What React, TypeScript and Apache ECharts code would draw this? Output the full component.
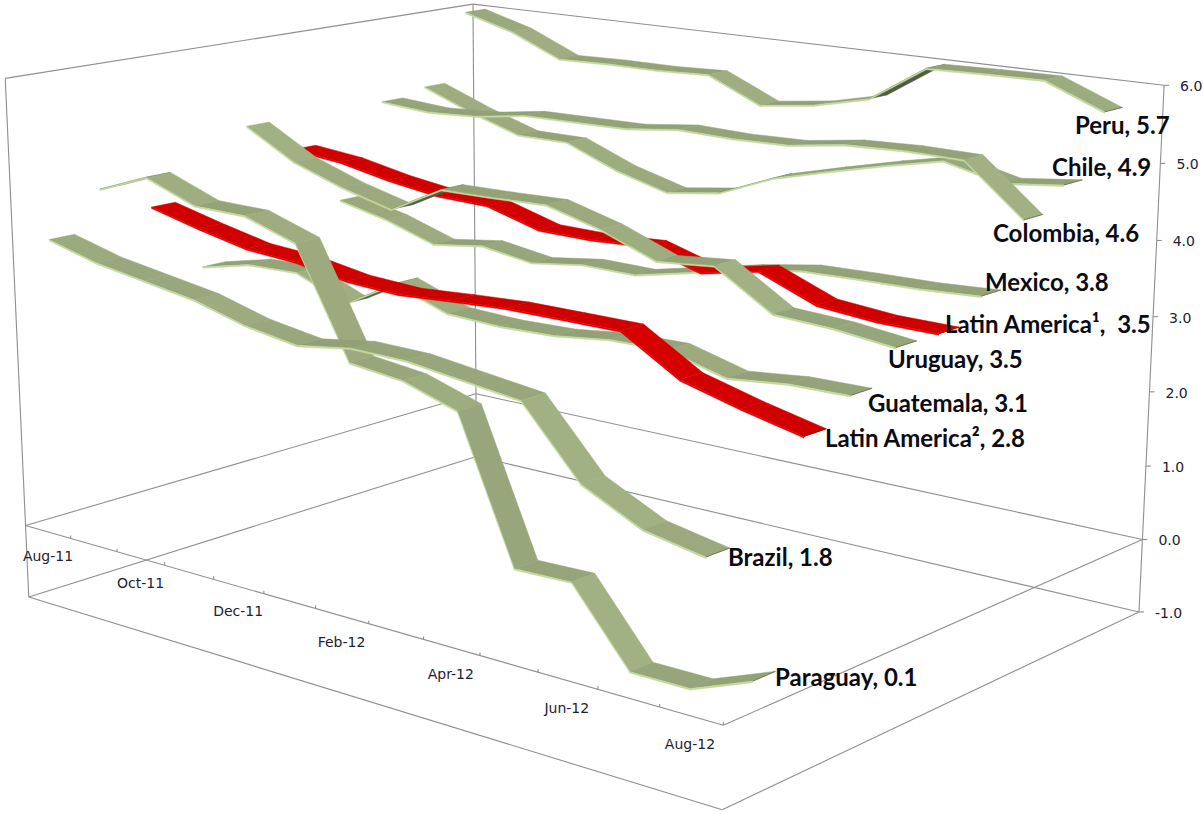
import React, { useEffect, useRef } from "react";
import * as echarts from "echarts";

const W = 1203, H = 814;

const months = ["Aug-11","Sep-11","Oct-11","Nov-11","Dec-11","Jan-12","Feb-12","Mar-12","Apr-12","May-12","Jun-12","Jul-12","Aug-12"];
const valueTicks = [-1, 0, 1, 2, 3, 4, 5, 6];

const brazil = [3.91,3.73,3.62,3.51,3.32,3.21,3.32,3.31,3.22,3.13,2.30,1.94,1.8];
const paraguay = [4.44,4.71,4.45,4.44,4.21,2.82,2.74,2.51,0.70,0.72,-0.20,-0.20,0.1];
const latamTwo = [4.06,3.89,3.74,3.69,3.57,3.53,3.58,3.62,3.62,3.62,3.17,2.97,2.8];
const guatemala = [3.09,3.25,3.27,2.98,3.38,3.12,3.09,3.11,3.20,3.21,3.01,3.09,3.1];
const uruguay = [4.91,4.52,4.28,4.10,4.48,4.49,4.51,4.31,4.03,4.10,3.63,3.59,3.5];
const latamOne = [4.46,4.39,4.25,4.15,4.13,3.92,3.91,3.95,3.73,3.88,3.58,3.51,3.5];
const mexico = [3.60,3.44,3.21,3.31,3.20,3.30,3.29,3.45,3.61,3.73,3.75,3.76,3.8];
const colombia = [4.90,4.85,4.89,5.00,5.01,5.02,5.11,5.09,5.11,5.22,5.25,5.24,4.6];
const chile = [5.00,4.73,4.50,4.50,4.21,4.01,4.12,4.43,4.63,4.82,4.99,4.81,4.9];
const peru = [5.99,5.79,5.48,5.50,5.50,5.53,5.20,5.30,5.48,5.98,6.00,6.01,5.7];

// Front to back along the depth axis.
const ribbons = [
  { name: "Brazil", values: brazil, red: false, labelAt: [728, 556] },
  { name: "Paraguay", values: paraguay, red: false, labelAt: [775, 676] },
  { name: "Latin America²", values: latamTwo, red: true, labelAt: [825, 437] },
  { name: "Guatemala", values: guatemala, red: false, labelAt: [868, 402] },
  { name: "Uruguay", values: uruguay, red: false, labelAt: [888, 358] },
  { name: "Latin America¹", values: latamOne, red: true, labelAt: [945, 323], gap: ",  " },
  { name: "Mexico", values: mexico, red: false, labelAt: [985, 281] },
  { name: "Colombia", values: colombia, red: false, labelAt: [993, 232] },
  { name: "Chile", values: chile, red: false, labelAt: [1052, 166] },
  { name: "Peru", values: peru, red: false, labelAt: [1075, 124] },
];

// Box corners as [month fraction, depth fraction, value, page x, page y].
const corners: number[][] = [
  [0, 0, -1, 29, 597], [0, 0, 0, 26, 525], [0, 0, 6, 5, 78],
  [0, 1, -1, 475, 458], [0, 1, 0, 477, 393], [0, 1, 6, 473, 4],
  [1, 1, -1, 1139, 611], [1, 1, 0, 1143, 539], [1, 1, 6, 1164, 86],
  [1, 0, -1, 722, 810], [1, 0, 0, 723, 726],
];

// Least-squares fit of a projective camera through the box corners.
function fitCamera(): number[] {
  const n = 11;
  const A = Array.from({ length: n }, () => new Array(n + 1).fill(0));
  const add = (r: number[], b: number) => {
    for (let i = 0; i < n; i++) {
      for (let j = 0; j < n; j++) A[i][j] += r[i] * r[j];
      A[i][n] += r[i] * b;
    }
  };
  for (const [X, Y, Z, u, v] of corners) {
    add([X, Y, Z, 1, 0, 0, 0, 0, -u * X, -u * Y, -u * Z], u);
    add([0, 0, 0, 0, X, Y, Z, 1, -v * X, -v * Y, -v * Z], v);
  }
  for (let i = 0; i < n; i++) {
    let p = i;
    for (let k = i + 1; k < n; k++) if (Math.abs(A[k][i]) > Math.abs(A[p][i])) p = k;
    [A[i], A[p]] = [A[p], A[i]];
    for (let k = 0; k < n; k++) {
      if (k === i) continue;
      const f = A[k][i] / A[i][i];
      for (let j = i; j <= n; j++) A[k][j] -= f * A[i][j];
    }
  }
  return A.map((r, i) => r[n] / r[i]);
}
const cam = fitCamera();
const project = (m: number, d: number, z: number): number[] => {
  const w = cam[8] * m + cam[9] * d + cam[10] * z + 1;
  return [
    (cam[0] * m + cam[1] * d + cam[2] * z + cam[3]) / w,
    (cam[4] * m + cam[5] * d + cam[6] * z + cam[7]) / w,
  ];
};

const AXIS = "#8f8f8f";
const INK = "#1c2233";
const RIBBON_HALF = 0.024;
const EDGE = 0.02;

// The hidden cartesian axes supply the scales; their pixels are read as box fractions.
const fromAxes = (api: any, i: number, v: number) => {
  const [px, py] = api.coord([i, v]);
  return { m: px / W, z: 6 - (py / H) * 7 };
};

const lerpShade = (deg: number) => {
  const stops = [[0, 0.9], [20, 0.94], [35, 1], [58, 1], [70, 0.94], [74, 0.89], [90, 0.86]];
  for (let i = 1; i < stops.length; i++) {
    if (deg <= stops[i][0]) {
      const t = (deg - stops[i - 1][0]) / (stops[i][0] - stops[i - 1][0]);
      return stops[i - 1][1] + t * (stops[i][1] - stops[i - 1][1]);
    }
  }
  return 0.86;
};
const shade = (red: boolean, k: number) =>
  red
    ? `rgb(${Math.round(214 * (k + 1) * 0.5)},0,0)`
    : `rgb(${Math.round(162 * k)},${Math.round(177 * k)},${Math.round(131 * k)})`;

const signedArea = (p: number[][]) => {
  let s = 0;
  for (let i = 0; i < p.length; i++) {
    const a = p[i], b = p[(i + 1) % p.length];
    s += a[0] * b[1] - b[0] * a[1];
  }
  return s / 2;
};

const ribbonSeries = (r: (typeof ribbons)[number], slot: number) => ({
  type: "custom",
  name: r.name,
  silent: true,
  coordinateSystem: "cartesian2d",
  z: 20 - slot,
  encode: { x: 0, y: 1 },
  data: r.values.map((v, i) => [i, v]),
  renderItem: (params: any, api: any) => {
    const i = params.dataIndex;
    if (i >= r.values.length - 1) return { type: "group", children: [] };
    const d = (slot + 0.5) / 10;
    const a = fromAxes(api, i, r.values[i]);
    const b = fromAxes(api, i + 1, r.values[i + 1]);
    const near = d - RIBBON_HALF, far = d + RIBBON_HALF;
    const top = [project(a.m, near, a.z), project(b.m, near, b.z), project(b.m, far, b.z), project(a.m, far, a.z)];
    const edge = [top[0], top[1], project(b.m, near, b.z - EDGE), project(a.m, near, a.z - EDGE)];
    const dx = top[1][0] - top[0][0], dy = top[1][1] - top[0][1];
    const deg = (Math.atan2(Math.abs(dy), Math.abs(dx)) * 180) / Math.PI;
    // A rise steep enough to turn the strip edge-on shows its dark underside.
    const underside = signedArea(top) > 0 || -dy / dx > 0.25;
    const fill = underside ? (r.red ? "#8a0000" : "#4f5c40") : shade(r.red, lerpShade(deg));
    const edgeFill = r.red ? "#e60000" : "#c3da9f";
    const children: any[] = [
      { type: "polygon", shape: { points: top }, style: { fill, stroke: fill, lineWidth: 0.5 } },
      { type: "polygon", shape: { points: edge }, style: { fill: edgeFill, stroke: edgeFill, lineWidth: 0.4 } },
    ];
    if (i === r.values.length - 2) {
      children.push({
        type: "line",
        shape: { x1: top[1][0], y1: top[1][1], x2: top[2][0], y2: top[2][1] },
        style: { stroke: r.red ? "#a00000" : "#6f7b58", lineWidth: 1 },
      });
    }
    return { type: "group", children };
  },
});

const labelSeries = {
  type: "custom",
  silent: true,
  coordinateSystem: "cartesian2d",
  z: 40,
  encode: { x: 0, y: 1 },
  data: ribbons.map((r) => [months.length - 1, r.values[r.values.length - 1]]),
  renderItem: (params: any, api: any) => {
    const r = ribbons[params.dataIndex];
    const last = api.value(1) as number;
    return {
      type: "text",
      x: r.labelAt[0],
      y: r.labelAt[1],
      style: {
        text: `${r.name}${r.gap ?? ", "}${last.toFixed(1)}`,
        fontFamily: "Lato",
        fontWeight: "bold",
        fontSize: 24,
        fill: "#0b0b14",
        align: "left",
        verticalAlign: "middle",
      },
    };
  },
};

const axisLine = (a: number[], b: number[]) => ({
  type: "line",
  shape: { x1: a[0], y1: a[1], x2: b[0], y2: b[1] },
  style: { stroke: AXIS, lineWidth: 1.1 },
});

const frameSeries = {
  type: "custom",
  silent: true,
  coordinateSystem: "cartesian2d",
  z: 1,
  data: [[0, 0]],
  renderItem: () => {
    const children: any[] = [];
    for (const z of [-1, 0]) {
      children.push(
        axisLine(project(0, 0, z), project(1, 0, z)),
        axisLine(project(1, 0, z), project(1, 1, z)),
        axisLine(project(1, 1, z), project(0, 1, z)),
        axisLine(project(0, 1, z), project(0, 0, z)),
      );
    }
    children.push(
      axisLine(project(0, 0, -1), project(0, 0, 6)),
      axisLine(project(0, 1, -1), project(0, 1, 6)),
      axisLine(project(1, 1, -1), project(1, 1, 6)),
      axisLine(project(0, 0, 6), project(0, 1, 6)),
      axisLine(project(0, 1, 6), project(1, 1, 6)),
    );
    for (let k = 0; k <= months.length; k++) {
      const p = project(k / months.length, 0, 0);
      children.push(axisLine(p, [p[0], p[1] - 3]));
    }
    return { type: "group", children };
  },
};

const valueAxisSeries = {
  type: "custom",
  silent: true,
  coordinateSystem: "cartesian2d",
  z: 2,
  encode: { x: 0, y: 1 },
  data: valueTicks.map((v) => [months.length - 1, v]),
  renderItem: (_p: any, api: any) => {
    const v = api.value(1) as number;
    const { z } = fromAxes(api, 0, v);
    const p = project(1, 1, z);
    return {
      type: "group",
      children: [
        axisLine(p, [p[0] + 5, p[1]]),
        {
          type: "text",
          x: p[0] + 16,
          y: p[1] + 1,
          style: {
            text: v.toFixed(1),
            fontFamily: "DejaVu Sans",
            fontSize: 14,
            fill: INK,
            align: "left",
            verticalAlign: "middle",
          },
        },
      ],
    };
  },
};

const monthAxisSeries = {
  type: "custom",
  silent: true,
  coordinateSystem: "cartesian2d",
  z: 2,
  encode: { x: 0, y: 1 },
  data: months.map((_, i) => [i, -0.33]).filter((_, i) => i % 2 === 0),
  renderItem: (_p: any, api: any) => {
    const i = api.value(0) as number;
    const { m, z } = fromAxes(api, i, api.value(1) as number);
    const p = project(m, 0, z);
    return {
      type: "text",
      x: p[0] - 1,
      y: p[1],
      style: {
        text: months[i],
        fontFamily: "DejaVu Sans",
        fontSize: 14,
        fill: INK,
        align: "center",
        verticalAlign: "middle",
      },
    };
  },
};

export default function App() {
  const ref = useRef<HTMLDivElement>(null);
  useEffect(() => {
    document.body.style.margin = "0";
    const chart = echarts.init(ref.current!, null, { renderer: "svg" });
    chart.setOption({
      animation: false,
      grid: { left: 0, right: 0, top: 0, bottom: 0 },
      xAxis: { type: "category", data: months, show: false },
      yAxis: { type: "value", min: -1, max: 6, show: false },
      series: [
        frameSeries,
        valueAxisSeries,
        monthAxisSeries,
        ...ribbons.map((r, slot) => ribbonSeries(r, slot)),
        labelSeries,
      ],
    });
    return () => chart.dispose();
  }, []);
  return <div ref={ref} style={{ position: "absolute", left: 0, top: 0, width: W, height: H }} />;
}
